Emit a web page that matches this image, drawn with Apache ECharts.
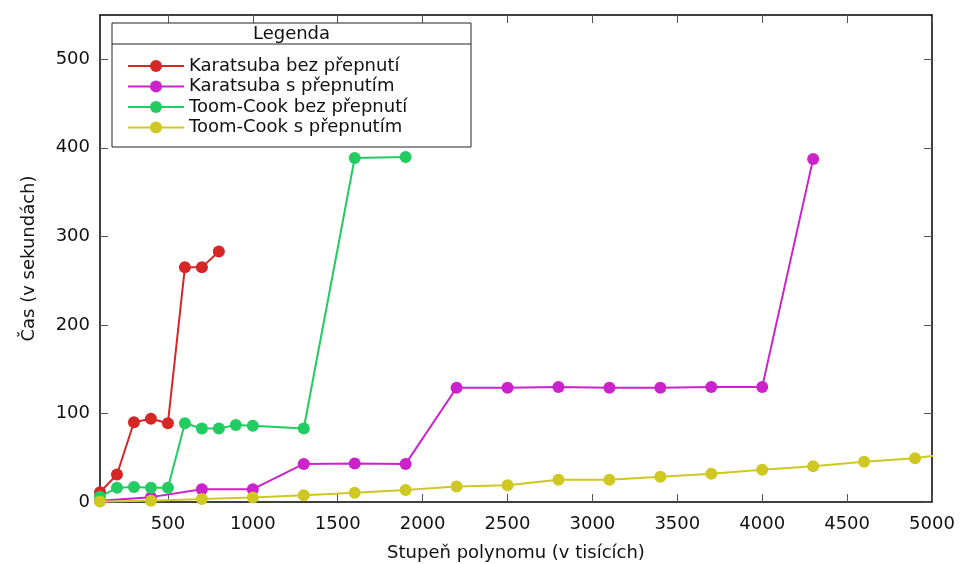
<!DOCTYPE html>
<html>
<head>
<meta charset="utf-8">
<title>Karatsuba vs Toom-Cook</title>
<script src="https://cdn.jsdelivr.net/npm/echarts@6/dist/echarts.min.js"></script>
<style>
  html, body { margin: 0; padding: 0; background: #fff; }
  #chart { width: 962px; height: 564px; }
</style>
</head>
<body>
<div id="chart"></div>
<script>
// Polynomial degree (thousands) and measured times (seconds)
const karatsubaBezX = [100, 200, 300, 400, 500, 600, 700, 800];
const karatsubaBezY = [11, 31, 90, 94, 89, 265, 265, 283];

const karatsubaSX = [100, 400, 700, 1000, 1300, 1600, 1900, 2200, 2500, 2800, 3100, 3400, 3700, 4000, 4300];
const karatsubaSY = [1.5, 5.5, 14.5, 14.5, 43, 43.5, 43, 129, 129, 130, 129, 129, 130, 130, 387.5];

const toomBezX = [100, 200, 300, 400, 500, 600, 700, 800, 900, 1000, 1300, 1600, 1900];
const toomBezY = [6, 16, 17, 16, 16, 89, 83, 83, 87, 86, 83, 388.5, 389.5];

const toomSX = [100, 400, 700, 1000, 1300, 1600, 1900, 2200, 2500, 2800, 3100, 3400, 3700, 4000, 4300, 4600, 4900, 5200];
const toomSY = [0.5, 1.5, 3.5, 5, 7.5, 10.5, 13.5, 17.5, 19, 25, 25, 28.5, 32, 36.5, 40.5, 45.5, 49.5, 57];

const seriesNames = ['Karatsuba bez přepnutí', 'Karatsuba s přepnutím', 'Toom-Cook bez přepnutí', 'Toom-Cook s přepnutím'];
const seriesColors = ['#d62626', '#cc22cc', '#22cc60', '#cfc822'];

const xTicks = [500, 1000, 1500, 2000, 2500, 3000, 3500, 4000, 4500, 5000];
const yTicks = [0, 100, 200, 300, 400, 500];

const xTitle = 'Stupeň polynomu (v tisících)';
const yTitle = 'Čas (v sekundách)';
const legendTitle = 'Legenda';

const FONT = 'DejaVu Sans';
const FS = 18;
const zip = (xs, ys) => xs.map((x, i) => [x, ys[i]]);
const seriesData = [
  zip(karatsubaBezX, karatsubaBezY),
  zip(karatsubaSX, karatsubaSY),
  zip(toomBezX, toomBezY),
  zip(toomSX, toomSY)
];

const chart = echarts.init(document.getElementById('chart'), null, { renderer: 'canvas' });

// Box border on all four sides, ticks pointing inwards (mirrored on top/right)
const border = { show: true, onZero: false, lineStyle: { color: '#000', width: 1.5 } };
const tick = (vals) => ({ show: true, inside: true, length: 8, customValues: vals, lineStyle: { color: '#555', width: 1 } });
const plain = (v) => String(v);

const option = {
  backgroundColor: '#fff',
  animation: false,
  textStyle: { fontFamily: FONT },
  grid: { left: 100, right: 30, top: 15, bottom: 62, containLabel: false, outerBoundsMode: 'none' },
  xAxis: [
    {
      type: 'value', position: 'bottom', min: 100, max: 5000,
      axisLine: border, axisTick: tick(xTicks), splitLine: { show: false },
      axisLabel: { customValues: xTicks, formatter: plain, fontSize: FS, color: '#111', fontFamily: FONT, margin: 13 },
      name: xTitle, nameLocation: 'middle', nameGap: 42,
      nameTextStyle: { fontSize: FS, color: '#111', fontFamily: FONT }
    },
    {
      type: 'value', position: 'top', min: 100, max: 5000,
      axisLine: border, axisTick: tick(xTicks), splitLine: { show: false },
      axisLabel: { show: false }
    }
  ],
  yAxis: [
    {
      type: 'value', position: 'left', min: 0, max: 550,
      axisLine: border, axisTick: tick(yTicks), splitLine: { show: false },
      axisLabel: { customValues: yTicks, formatter: plain, fontSize: FS, color: '#111', fontFamily: FONT, margin: 10 },
      name: yTitle, nameLocation: 'middle', nameGap: 62, nameRotate: 90,
      nameTextStyle: { fontSize: FS, color: '#111', fontFamily: FONT }
    },
    {
      type: 'value', position: 'right', min: 0, max: 550,
      axisLine: border, axisTick: tick(yTicks), splitLine: { show: false },
      axisLabel: { show: false }
    }
  ],
  legend: {
    orient: 'vertical', left: 122, top: 51,
    itemWidth: 56, itemHeight: 15, itemGap: 0.5,
    data: seriesNames,
    textStyle: { fontSize: FS, color: '#111', fontFamily: FONT, lineHeight: 20 }
  },
  graphic: [
    { type: 'rect', shape: { x: 112, y: 23, width: 359, height: 124 }, style: { fill: 'rgba(0,0,0,0)', stroke: '#222', lineWidth: 1 }, z: 10 },
    { type: 'line', shape: { x1: 112, y1: 44, x2: 471, y2: 44 }, style: { stroke: '#222', lineWidth: 1 }, z: 10 },
    { type: 'text', x: 291.5, y: 34, style: { text: legendTitle, fontSize: FS, fontFamily: FONT, fill: '#111', align: 'center', verticalAlign: 'middle' }, z: 10 }
  ],
  series: seriesNames.map((name, i) => ({
    name: name,
    type: 'line',
    data: seriesData[i],
    xAxisIndex: 0, yAxisIndex: 0,
    symbol: 'circle', symbolSize: 12,
    showAllSymbol: true,
    clip: true,
    color: seriesColors[i],
    lineStyle: { width: 2, color: seriesColors[i] },
    itemStyle: { color: seriesColors[i] },
    z: 2 + i
  }))
};

chart.setOption(option);
</script>
</body>
</html>
